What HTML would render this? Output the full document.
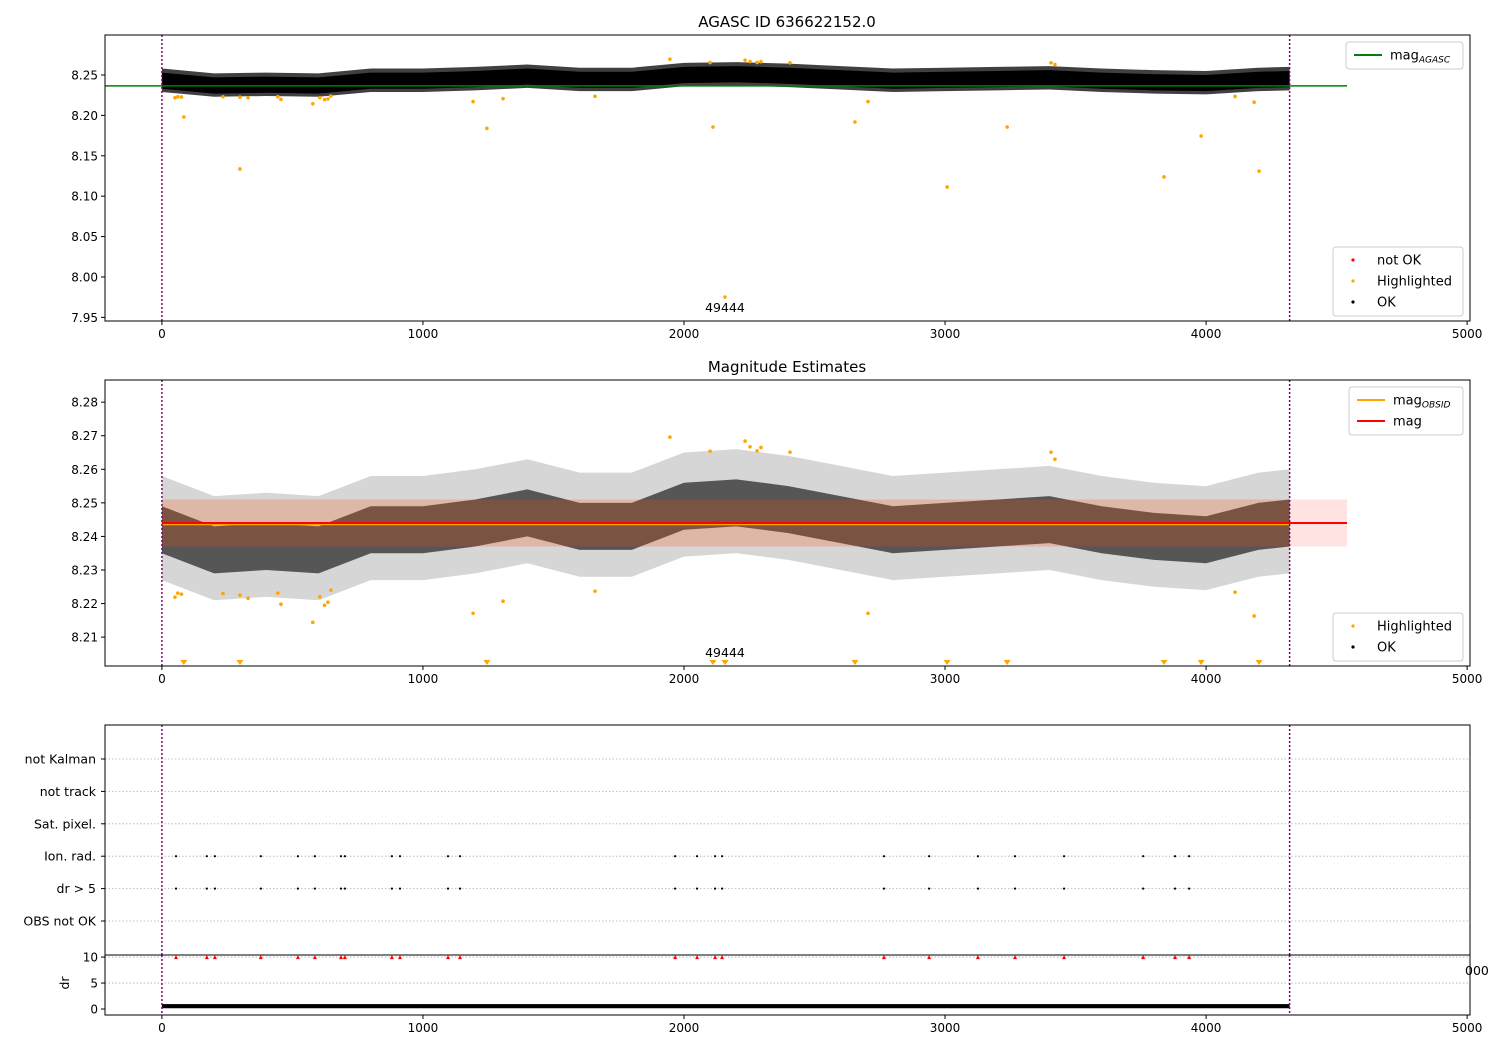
<!DOCTYPE html>
<html><head><meta charset="utf-8"><style>
body{margin:0;background:#fff}
svg{display:block;font-family:"DejaVu Sans","Liberation Sans",sans-serif}
</style></head><body>
<svg id="fig" width="1500" height="1050" xmlns="http://www.w3.org/2000/svg"></svg>
<script>
// ---- data ----
const binStarts = [0,200,400,600,800,1000,1200,1400,1600,1800,2000,2200,2400,2600,2800,3000,3200,3400,3600,3800,4000,4200,4320];
const binCenters = [8.242,8.236,8.237,8.236,8.242,8.242,8.244,8.247,8.243,8.243,8.249,8.250,8.248,8.245,8.242,8.243,8.244,8.245,8.242,8.240,8.239,8.243,8.244];
const hiX = [50,61,75,234,299,330,444,456,578,605,623,636,647,1192,1307,1659,1946,2100,2234,2253,2280,2295,2406,2705,3406,3421,4111,4184,
             84,299,1245,2111,2157,2655,3008,3238,3839,3981,4203];
const hiMag = [8.2219,8.2231,8.2228,8.223,8.2225,8.2216,8.2231,8.2198,8.2144,8.222,8.2195,8.2204,8.224,8.2171,8.2207,8.2237,8.2696,8.2654,8.2684,8.2667,8.2655,8.2665,8.2651,8.2171,8.2651,8.263,8.2234,8.2163,
             8.198,8.1337,8.184,8.1856,7.9752,8.1918,8.1114,8.1856,8.1238,8.1745,8.131];
const flagTimes = [54,172,203,379,521,586,686,701,881,912,1096,1142,1966,2050,2119,2146,2766,2939,3126,3268,3456,3759,3881,3935];
const flagCats = ["OBS not OK","dr > 5","Ion. rad.","Sat. pixel.","not track","not Kalman"];
const ticksX = [0,1000,2000,3000,4000,5000];
const ticksY1 = [7.95,8.00,8.05,8.10,8.15,8.20,8.25];
const ticksY2 = [8.21,8.22,8.23,8.24,8.25,8.26,8.27,8.28];
const ticksDr = [0,5,10];
const magAgasc = 8.2365, magObs = 8.2437, magMean = 8.244, magStd = 0.007;
const drMean = 0.5;
const obsStart = 0, obsEnd = 4320, lineEnd = 4540, obsLabelX = 2157, obsId = "49444";

// ---- helpers ----
const NS="http://www.w3.org/2000/svg", svg=document.getElementById('fig');
function el(tag,attrs,parent){const e=document.createElementNS(NS,tag);for(const k in attrs)e.setAttribute(k,attrs[k]);(parent||svg).appendChild(e);return e;}
function txt(s,attrs,parent){const e=el('text',attrs,parent);e.textContent=s;return e;}
const X0=105,X1=1470,xmin=-218,xmax=5011;
const sx=v=>X0+(v-xmin)/(xmax-xmin)*(X1-X0);
function mkY(top,bot,vmax,vmin){return v=>top+(vmax-v)/(vmax-vmin)*(bot-top);}
const y1=mkY(35,321,8.2995,7.9455), y2=mkY(380,666,8.2866,8.2014), yd=mkY(955,1015,10.4,-1.15);
const ycat=i=>921-i*32.4;

function xAxis(bottom,name){
  const g=el('g',{});
  ticksX.forEach(t=>{const x=sx(t);el('line',{x1:x,x2:x,y1:bottom,y2:bottom+4,stroke:'#000'},g);
    txt(String(t),{x:x,y:bottom+17,'text-anchor':'middle','font-size':12},g);});
}
function yAxis(ticks,sy,fmt,name){
  const g=el('g',{});
  ticks.forEach(t=>{const y=sy(t);el('line',{x1:X0-4,x2:X0,y1:y,y2:y,stroke:'#000'},g);
    txt(fmt(t),{x:X0-7,y:y+4.5,'text-anchor':'end','font-size':12},g);});
}
function frame(top,bot,name){const r=el('rect',{x:X0,y:top,width:X1-X0,height:bot-top,fill:'none',stroke:'#000','stroke-width':1});}
function vlines(top,bot){[obsStart,obsEnd].forEach(v=>{const l=el('line',{x1:sx(v),x2:sx(v),y1:top,y2:bot,stroke:'purple','stroke-width':1.5,'stroke-dasharray':'2,2'});});}
function band(sy,off1,off2,attrs,name){
  let up=[],dn=[];
  binStarts.forEach((b,i)=>{up.push(sx(b)+','+sy(binCenters[i]+off2));dn.unshift(sx(b)+','+sy(binCenters[i]+off1));});
  const p=el('polygon',Object.assign({points:up.concat(dn).join(' ')},attrs));
  
}
function legend(x,y,w,items,name){
  const g=el('g',{});
  el('rect',{x:x,y:y,width:w,height:items.length*21+6,rx:3,fill:'#fff',stroke:'#ccc'},g);
  items.forEach((it,i)=>{const cy=y+13+i*21;
    if(it.line) el('line',{x1:x+8,x2:x+36,y1:cy,y2:cy,stroke:it.c,'stroke-width':2},g);
    else el('circle',{cx:x+20,cy:cy,r:1.6,fill:it.c},g);
    const t=txt(it.t,{x:x+44,y:cy+4.5,'font-size':13},g);
    if(it.sub){const s=el('tspan',{'font-size':9,dy:3,'font-style':'italic'},t);s.textContent=it.sub;}
  });
}

// ---- Panel 1 ----
txt('AGASC ID 636622152.0',{x:787,y:27,'text-anchor':'middle','font-size':15});
band(y1,-0.013,0.016,{fill:'#000',opacity:0.75},'cloud-ok-outer-1');
band(y1,-0.009,0.011,{fill:'#000'},'cloud-ok-1');
hiX.forEach((v,i)=>{const c=el('circle',{cx:sx(v),cy:y1(hiMag[i]),r:1.8,fill:'orange'});

});
{const l=el('line',{x1:X0,x2:sx(lineEnd),y1:y1(magAgasc),y2:y1(magAgasc),stroke:'green','stroke-width':1.5});}
vlines(35,321);
txt(obsId,{x:sx(obsLabelX),y:312,'text-anchor':'middle','font-size':12.5});
frame(35,321,'axes-panel1');
xAxis(321,'x-axis-panel1');
yAxis(ticksY1,y1,v=>v.toFixed(2),'y-axis-panel1');
legend(1346,42,117,[{t:'mag',sub:'AGASC',c:'green',line:1}],'legend-agasc');
legend(1333,247,130,[{t:'not OK',c:'red'},{t:'Highlighted',c:'orange'},{t:'OK',c:'#000'}],'legend-points-1');

// ---- Panel 2 ----
txt('Magnitude Estimates',{x:787,y:372,'text-anchor':'middle','font-size':15});
band(y2,-0.015,0.016,{fill:'#000',opacity:0.16},'cloud-ok-outer-2');
band(y2,-0.007,0.007,{fill:'#000',opacity:0.6},'cloud-ok-2');
{const r=el('rect',{x:sx(0),y:y2(magMean+magStd),width:sx(lineEnd)-sx(0),height:y2(magMean-magStd)-y2(magMean+magStd),fill:'#ff0000',opacity:0.11});
 const r2=el('rect',{x:sx(0),y:y2(magMean+magStd),width:sx(obsEnd)-sx(0),height:y2(magMean-magStd)-y2(magMean+magStd),fill:'#ff8c00',opacity:0.12});}
hiX.forEach((v,i)=>{const m=hiMag[i];
  if(m>=8.2014){const c=el('circle',{cx:sx(v),cy:y2(m),r:1.8,fill:'orange'});
    
    }
  else{const x=sx(v),y=663;const p=el('polygon',{points:`${x-3.5},${y-3} ${x+3.5},${y-3} ${x},${y+2}`,fill:'orange'});
    
    }
});
{const l=el('line',{x1:sx(0),x2:sx(obsEnd),y1:y2(magObs),y2:y2(magObs),stroke:'orange','stroke-width':2.5});
 const l2=el('line',{x1:sx(0),x2:sx(lineEnd),y1:y2(magMean),y2:y2(magMean),stroke:'red','stroke-width':2});}
vlines(380,666);
txt(obsId,{x:sx(obsLabelX),y:657,'text-anchor':'middle','font-size':12.5});
frame(380,666,'axes-panel2');
xAxis(666,'x-axis-panel2');
yAxis(ticksY2,y2,v=>v.toFixed(2),'y-axis-panel2');
legend(1349,387,114,[{t:'mag',sub:'OBSID',c:'orange',line:1},{t:'mag',c:'red',line:1}],'legend-mag');
legend(1333,613,130,[{t:'Highlighted',c:'orange'},{t:'OK',c:'#000'}],'legend-points-2');

// ---- Panel 3 flags ----
flagCats.forEach((c,i)=>{const y=ycat(i);
  const l=el('line',{x1:X0,x2:X1,y1:y,y2:y,stroke:'#b0b0b0','stroke-dasharray':'1.5,2','stroke-width':0.8});
  
  
  el('line',{x1:X0-4,x2:X0,y1:y,y2:y,stroke:'#000'});
  const t=txt(c,{x:X0-9,y:y+4.5,'text-anchor':'end','font-size':12.5});
  
  
});
flagTimes.forEach(v=>{[1,2].forEach(i=>{const c=el('circle',{cx:sx(v),cy:ycat(i),r:1.1,fill:'#000'});
  
  });});
vlines(725,955);
frame(725,955,'axes-flags');
txt('000',{x:1465,y:975,'font-size':12.5});

// ---- dr panel ----
[5,10].forEach(v=>{const l=el('line',{x1:X0,x2:X1,y1:yd(v),y2:yd(v),stroke:'#b0b0b0','stroke-dasharray':'1.5,2','stroke-width':0.8});});
{const r=el('rect',{x:sx(0),y:yd(drMean+0.45),width:sx(obsEnd)-sx(0),height:yd(drMean-0.35)-yd(drMean+0.45),fill:'#000'});}
flagTimes.forEach(v=>{const x=sx(v),y=yd(10);const p=el('polygon',{points:`${x-2},${y+2} ${x+2},${y+2} ${x},${y-2}`,fill:'red'});
  
  });
vlines(955,1015);
frame(955,1015,'axes-dr');
xAxis(1015,'x-axis-dr');
yAxis(ticksDr,yd,v=>String(v),'y-axis-dr');
{const t=txt('dr',{x:0,y:0,'font-size':12.5,'text-anchor':'middle',transform:'translate(69,983) rotate(-90)'});}
</script>
</body></html>
